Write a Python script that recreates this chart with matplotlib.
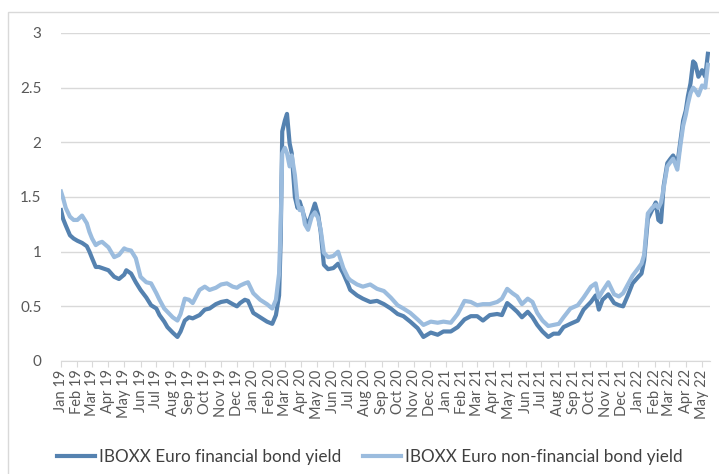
import matplotlib
matplotlib.use("Agg")
import matplotlib.pyplot as plt
import matplotlib.dates as mdates
from matplotlib.patches import Rectangle
import pandas as pd

# dates (both series share them)
dates = [
    "2019-01-01", "2019-01-05", "2019-01-10", "2019-01-18", "2019-01-25",
    "2019-02-01", "2019-02-10", "2019-02-19", "2019-02-24",
    "2019-03-01", "2019-03-08", "2019-03-14", "2019-03-20",
    "2019-04-01", "2019-04-12", "2019-04-21",
    "2019-05-01", "2019-05-05", "2019-05-14", "2019-05-23",
    "2019-06-01", "2019-06-12", "2019-06-21",
    "2019-07-01", "2019-07-07", "2019-07-16", "2019-07-22",
    "2019-08-01", "2019-08-10", "2019-08-16", "2019-08-24",
    "2019-09-01", "2019-09-08", "2019-09-21",
    "2019-10-01", "2019-10-10", "2019-10-22",
    "2019-11-01", "2019-11-12", "2019-11-23",
    "2019-12-01", "2019-12-07", "2019-12-16", "2019-12-22",
    "2020-01-01", "2020-01-14", "2020-01-27",
    "2020-02-06", "2020-02-13", "2020-02-19", "2020-02-22", "2020-02-25",
    "2020-03-01", "2020-03-05", "2020-03-10", "2020-03-14", "2020-03-20", "2020-03-25", "2020-03-29",
    "2020-04-03", "2020-04-08", "2020-04-14", "2020-04-21", "2020-04-27",
    "2020-05-03", "2020-05-08", "2020-05-14", "2020-05-22",
    "2020-06-01", "2020-06-10", "2020-06-20", "2020-06-29",
    "2020-07-03", "2020-07-16", "2020-07-27",
    "2020-08-10", "2020-08-23",
    "2020-09-05", "2020-09-18",
    "2020-10-01", "2020-10-12", "2020-10-25",
    "2020-11-08", "2020-11-19",
    "2020-12-03", "2020-12-16", "2020-12-27",
    "2021-01-10", "2021-01-23",
    "2021-02-05", "2021-02-17",
    "2021-03-01", "2021-03-12", "2021-03-25",
    "2021-04-08", "2021-04-17", "2021-04-27",
    "2021-05-07", "2021-05-16", "2021-05-25",
    "2021-06-05", "2021-06-14", "2021-06-23",
    "2021-07-03", "2021-07-14", "2021-07-24",
    "2021-08-03", "2021-08-12", "2021-08-25",
    "2021-09-08", "2021-09-19",
    "2021-10-03", "2021-10-12", "2021-10-18", "2021-10-25",
    "2021-11-05", "2021-11-16", "2021-11-25",
    "2021-12-03", "2021-12-12", "2021-12-21",
    "2022-01-01", "2022-01-07", "2022-01-12", "2022-01-19", "2022-01-27",
    "2022-02-03", "2022-02-08", "2022-02-13", "2022-02-18", "2022-02-25",
    "2022-03-03", "2022-03-08", "2022-03-16", "2022-03-22", "2022-03-27",
    "2022-04-01", "2022-04-05", "2022-04-10", "2022-04-15", "2022-04-19", "2022-04-25",
    "2022-05-02", "2022-05-08", "2022-05-13",
]

financial = [
    1.38, 1.30, 1.24, 1.15, 1.12, 1.10, 1.08, 1.05, 1.00, 0.94, 0.86, 0.86, 0.85,
    0.83, 0.77, 0.75, 0.79, 0.83, 0.80, 0.72, 0.65, 0.58, 0.51, 0.48, 0.42, 0.36, 0.31,
    0.26, 0.22, 0.27, 0.37, 0.40, 0.39, 0.42, 0.47, 0.48, 0.52, 0.54, 0.55, 0.52,
    0.50, 0.53, 0.56, 0.55,
    0.44, 0.40, 0.36, 0.34, 0.42, 0.60, 1.10, 2.10,
    2.20, 2.26, 1.99, 1.90, 1.50, 1.40, 1.46, 1.38, 1.30, 1.25, 1.35, 1.44,
    1.34, 1.18, 0.88, 0.84, 0.85, 0.89, 0.80, 0.70, 0.65, 0.60, 0.57, 0.54, 0.55,
    0.52, 0.48, 0.43, 0.41, 0.36, 0.30, 0.22, 0.26, 0.24, 0.27,
    0.27, 0.31, 0.38, 0.41, 0.41, 0.37, 0.42, 0.43, 0.42, 0.53, 0.49, 0.45, 0.40,
    0.45, 0.40, 0.33, 0.27, 0.22, 0.25, 0.25, 0.31, 0.34, 0.37, 0.47,
    0.54, 0.60, 0.47, 0.56, 0.61, 0.53, 0.51, 0.50, 0.60, 0.71,
    0.77, 0.80, 0.92, 1.30, 1.38, 1.45, 1.29, 1.27, 1.60, 1.81,
    1.85, 1.88, 1.80, 2.02, 2.20, 2.29, 2.42, 2.54, 2.74, 2.72, 2.60,
    2.66, 2.60, 2.81,
]

non_financial = [
    1.55, 1.49, 1.40, 1.32, 1.29, 1.29, 1.33, 1.26, 1.18, 1.12, 1.06, 1.08, 1.09,
    1.04, 0.95, 0.97, 1.03, 1.02, 1.01, 0.94, 0.77, 0.72, 0.71, 0.62, 0.56, 0.48, 0.45,
    0.40, 0.37, 0.43, 0.57, 0.56, 0.53, 0.65, 0.68, 0.65, 0.67, 0.70, 0.71, 0.68,
    0.67, 0.69, 0.71, 0.72,
    0.62, 0.56, 0.52, 0.48, 0.56, 0.80, 1.25, 1.90,
    1.95, 1.90, 1.78, 1.88, 1.70, 1.45, 1.38, 1.40, 1.25, 1.20, 1.32, 1.36,
    1.31, 1.20, 0.99, 0.95, 0.96, 1.00, 0.85, 0.76, 0.74, 0.70, 0.68, 0.70, 0.66,
    0.64, 0.58, 0.51, 0.48, 0.44, 0.38, 0.33, 0.36, 0.35, 0.36,
    0.35, 0.43, 0.55, 0.54, 0.51, 0.52, 0.52, 0.54, 0.57, 0.66, 0.62, 0.59, 0.52,
    0.57, 0.54, 0.44, 0.37, 0.32, 0.33, 0.34, 0.40, 0.48, 0.51, 0.58,
    0.68, 0.71, 0.58, 0.64, 0.72, 0.61, 0.59, 0.62, 0.70, 0.78,
    0.85, 0.89, 0.97, 1.35, 1.40, 1.43, 1.40, 1.45, 1.58, 1.78,
    1.82, 1.85, 1.75, 1.98, 2.15, 2.25, 2.35, 2.45, 2.50, 2.48, 2.43,
    2.52, 2.50, 2.71,
]

labels = ["IBOXX Euro financial bond yield", "IBOXX Euro non-financial bond yield"]
y_ticks = [0, 0.5, 1, 1.5, 2, 2.5, 3]

plt.rcParams["font.family"] = ["Lato", "DejaVu Sans"]

x = pd.to_datetime(dates)

fig = plt.figure(figsize=(7.19, 4.74), dpi=100)
ax = fig.add_axes([61 / 719, 1 - 361 / 474, 649 / 719, (361 - 33) / 474])

ax.plot(x, financial, color="#5582b0", lw=3.0, label=labels[0], solid_joinstyle="round")
ax.plot(x, non_financial, color="#9bbcde", lw=3.0, label=labels[1], solid_joinstyle="round")

ax.set_ylim(0, 3)
ax.set_yticks(y_ticks)
ax.set_yticklabels(["0", "0.5", "1", "1.5", "2", "2.5", "3"])
ax.set_xlim(pd.Timestamp("2019-01-01"), pd.Timestamp("2022-05-17"))
ax.xaxis.set_major_locator(mdates.MonthLocator())
ax.xaxis.set_major_formatter(mdates.DateFormatter("%b %y"))

for s in ["top", "right", "left"]:
    ax.spines[s].set_visible(False)
ax.spines["bottom"].set_color("#d9d9d9")
ax.grid(axis="y", color="#d9d9d9", lw=1)
ax.set_axisbelow(True)

ax.tick_params(axis="x", direction="out", length=4, color="#d9d9d9",
               labelcolor="#595959", labelsize=10.5, labelrotation=90, pad=2)
ax.tick_params(axis="y", length=0, labelcolor="#595959", labelsize=11, pad=14)

fig.legend(loc="center", bbox_to_anchor=(370 / 719, 1 - 457 / 474), ncol=2,
           frameon=False, fontsize=12.3, handlelength=2.2, handletextpad=0.25,
           columnspacing=1.3, labelcolor="#404040")

# outer chart border
fig.patches.append(Rectangle((8 / 719, -0.1), 1.2, 1 - 12 / 474 + 0.1,
                             transform=fig.transFigure, fill=False,
                             edgecolor="#d9d9d9", lw=1))

fig.savefig("out.png", dpi=100)
